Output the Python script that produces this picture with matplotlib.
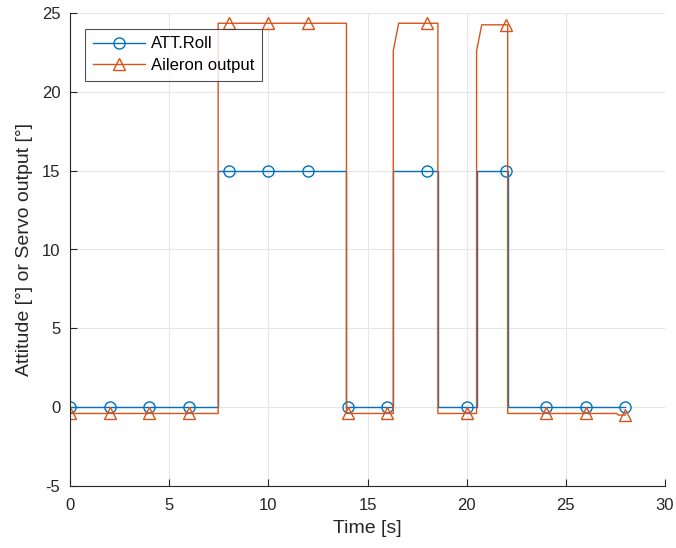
import matplotlib
matplotlib.use("Agg")
import matplotlib.pyplot as plt
from matplotlib.lines import Line2D

# ATT.Roll polyline (time [s], attitude [deg])
roll_t = [0.0, 7.47, 7.47, 13.94, 13.94, 16.3, 16.3, 18.55, 18.55, 20.5, 20.5, 22.07, 22.07, 28.0]
roll_v = [0.0, 0.0, 15.0, 15.0, 0.0, 0.0, 15.0, 15.0, 0.0, 0.0, 15.0, 15.0, 0.0, 0.0]

# Aileron output polyline
ail_t = [0.0, 7.47, 7.47, 13.94, 13.94, 16.3, 16.3, 16.57, 18.55, 18.55, 20.5, 20.5, 20.76, 22.07, 22.07, 27.55, 27.65, 28.0]
ail_v = [-0.4, -0.4, 24.35, 24.35, -0.4, -0.4, 22.6, 24.35, 24.35, -0.4, -0.4, 22.6, 24.25, 24.25, -0.4, -0.4, -0.5, -0.5]

# marker samples
mark_t = [0, 2, 4, 6, 8, 10, 12, 14, 16, 18, 20, 22, 24, 26, 28]
roll_mark = [0, 0, 0, 0, 15, 15, 15, 0, 0, 15, 0, 15, 0, 0, 0]
ail_mark = [-0.4, -0.4, -0.4, -0.4, 24.35, 24.35, 24.35, -0.4, -0.4, 24.35, -0.4, 24.25, -0.4, -0.4, -0.5]

x_ticks = [0, 5, 10, 15, 20, 25, 30]
y_ticks = [-5, 0, 5, 10, 15, 20, 25]

blue = "#0072BD"
orange = "#D95319"

plt.rcParams['font.family'] = ['Liberation Sans', 'DejaVu Sans']

fig = plt.figure(figsize=(6.76, 5.48), dpi=100)
ax = fig.add_axes([70/676, 1-486/548, (665-70)/676, (486-13)/548])

ax.plot(roll_t, roll_v, color=blue, lw=1.0)
ax.plot(mark_t, roll_mark, ls='none', marker='o', ms=8, mfc='none', mec=blue, mew=1.0)
ax.plot(ail_t, ail_v, color=orange, lw=1.0)
ax.plot(mark_t, ail_mark, ls='none', marker='^', ms=8.5, mfc='none', mec=orange, mew=1.0)

h1 = Line2D([], [], color=blue, lw=1.0, marker='o', ms=8, mfc='none', mec=blue)
h2 = Line2D([], [], color=orange, lw=1.0, marker='^', ms=8.5, mfc='none', mec=orange)
leg = ax.legend([h1, h2], ['ATT.Roll', 'Aileron output'], loc='upper left',
                bbox_to_anchor=(15/595, 1-16/473), fontsize=12, frameon=True, fancybox=False,
                edgecolor='#262626', handlelength=3.15, borderpad=0.45, labelspacing=0.4,
                handletextpad=0.35, borderaxespad=0.0)
leg.get_frame().set_linewidth(0.8)

ax.set_xlim(0, 30)
ax.set_ylim(-5, 25)
ax.set_xticks(x_ticks)
ax.set_yticks(y_ticks)
ax.set_xticklabels([str(v) for v in x_ticks])
ax.set_yticklabels([str(v) for v in y_ticks])
ax.grid(True, color='#e6e6e6', lw=0.8)
ax.set_axisbelow(True)
for s in ['top', 'right']:
    ax.spines[s].set_visible(False)
for s in ['left', 'bottom']:
    ax.spines[s].set_color('#262626')
    ax.spines[s].set_linewidth(0.8)
ax.tick_params(direction='in', length=5, width=0.8, colors='#262626', labelsize=12)
ax.tick_params(axis='x', pad=9)
ax.tick_params(axis='y', pad=7)
ax.set_xlabel('Time [s]', fontsize=14, color='#262626', labelpad=5)
ax.set_ylabel('Attitude [°] or Servo output [°]', fontsize=14, color='#262626', labelpad=6)

fig.savefig('out.png', dpi=100)
